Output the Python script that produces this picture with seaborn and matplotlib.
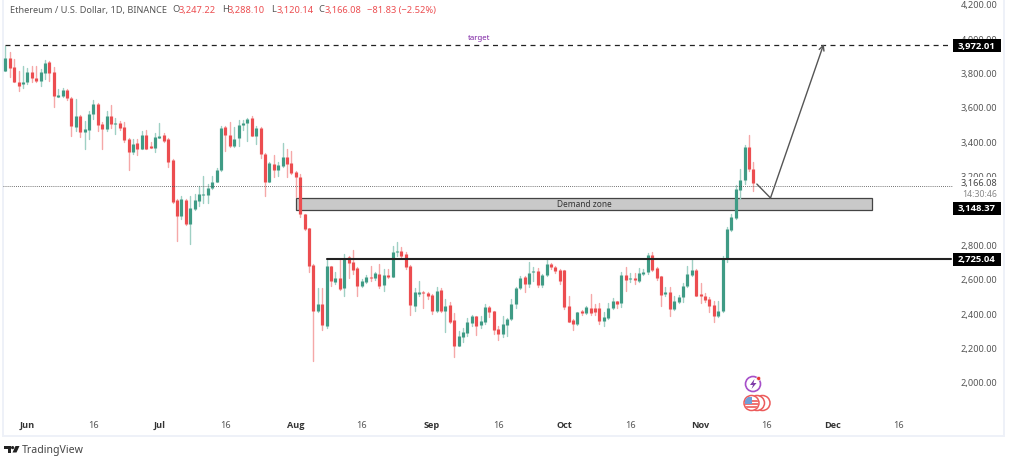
import pandas as pd
import seaborn as sns
import matplotlib.pyplot as plt
from matplotlib.patches import Circle, Rectangle, Polygon

# velas diarias (la primera es el 27 de mayo)
opens = [3808,3882,3830,3746,3733,3742,3805,3770,3752,3797,3863,3805,3659,3665,3700,3653,3481,3549,3456,3467,
         3556,3615,3502,3471,3549,3502,3508,3483,3413,3335,3388,3355,3438,3370,3359,3421,3436,3413,3289,3060,
         2967,3056,2919,3006,3053,3089,3087,3128,3165,3235,3481,3436,3374,3419,3494,3506,3533,3432,3475,3328,
         3165,3268,3233,3258,3308,3273,3223,3192,2977,2893,2682,2411,2455,2324,2672,2579,2603,2544,2725,2696,
         2663,2556,2583,2610,2603,2626,2564,2624,2610,2754,2760,2742,2672,2444,2510,2525,2517,2506,2415,2533,
         2413,2448,2362,2211,2260,2285,2343,2382,2331,2351,2434,2411,2308,2279,2333,2366,2453,2548,2608,2568,
         2637,2647,2564,2622,2686,2668,2651,2649,2440,2362,2337,2411,2401,2432,2432,2432,2355,2370,2428,2469,
         2457,2622,2597,2605,2589,2628,2637,2738,2661,2614,2512,2525,2424,2463,2492,2556,2622,2653,2512,2502,
         2482,2448,2386,2413,2715,2886,2952,3118,3172,3364,3238]
highs = [3956,3917,3878,3810,3836,3824,3836,3839,3820,3874,3866,3830,3704,3708,3704,3657,3646,3553,3520,3578,
         3640,3622,3510,3574,3613,3533,3516,3510,3417,3413,3413,3461,3467,3394,3448,3506,3448,3417,3297,3064,
         3080,3064,3084,3093,3142,3200,3151,3196,3242,3491,3491,3514,3481,3525,3525,3533,3549,3491,3481,3332,
         3277,3320,3277,3388,3355,3341,3229,3210,2977,2893,2686,2544,2544,2715,2676,2637,2715,2742,2734,2769,
         2667,2599,2622,2672,2637,2688,2657,2657,2793,2812,2783,2754,2680,2548,2589,2529,2521,2512,2550,2544,
         2482,2463,2401,2298,2312,2370,2389,2386,2382,2455,2444,2415,2327,2386,2370,2482,2550,2614,2618,2696,
         2667,2661,2630,2715,2692,2672,2657,2653,2498,2366,2405,2420,2444,2512,2455,2459,2409,2459,2486,2473,
         2641,2670,2634,2634,2661,2657,2750,2758,2667,2618,2550,2550,2502,2506,2575,2676,2715,2657,2575,2517,
         2492,2473,2473,2734,2899,2977,3145,3238,3378,3436,3277]
lows = [3808,3772,3742,3694,3708,3733,3742,3746,3723,3762,3752,3597,3655,3659,3642,3429,3461,3423,3355,3413,
        3529,3461,3355,3461,3475,3440,3467,3397,3235,3326,3320,3355,3355,3359,3339,3417,3394,3248,3041,2822,
        2948,2913,2803,3002,3022,3041,3041,3122,3161,3229,3343,3365,3365,3374,3467,3403,3429,3384,3301,3080,
        3161,3190,3196,3248,3190,3210,3074,2958,2886,2637,2124,2409,2304,2312,2560,2570,2537,2502,2603,2628,
        2502,2550,2575,2589,2595,2544,2531,2603,2608,2734,2725,2657,2389,2415,2498,2432,2482,2395,2409,2409,
        2293,2343,2143,2211,2234,2269,2324,2273,2312,2337,2376,2279,2246,2260,2269,2362,2428,2541,2521,2550,
        2589,2550,2550,2614,2657,2634,2570,2424,2347,2304,2331,2389,2395,2389,2389,2337,2324,2366,2424,2428,
        2434,2531,2579,2570,2583,2622,2628,2647,2595,2444,2502,2382,2420,2459,2463,2550,2618,2498,2459,2467,
        2405,2351,2376,2409,2696,2880,2948,3064,3151,3229,3112]
closes = [3882,3828,3746,3719,3746,3801,3766,3750,3805,3855,3797,3665,3669,3698,3649,3487,3549,3456,3471,3556,
          3615,3494,3471,3549,3500,3508,3477,3405,3339,3384,3355,3438,3355,3363,3425,3429,3401,3277,3045,2967,
          3064,2919,3010,3060,3093,3093,3128,3161,3235,3475,3436,3374,3413,3494,3506,3529,3432,3475,3326,3161,
          3273,3235,3264,3308,3270,3215,3190,2977,2890,2676,2411,2455,2331,2676,2589,2606,2541,2715,2692,2653,
          2556,2585,2608,2603,2634,2560,2622,2610,2754,2762,2730,2667,2448,2521,2525,2517,2498,2415,2529,2415,
          2440,2351,2211,2265,2289,2347,2384,2327,2355,2436,2409,2304,2279,2335,2366,2455,2548,2606,2568,2634,
          2645,2564,2624,2686,2667,2647,2589,2434,2351,2337,2405,2399,2434,2401,2409,2355,2378,2428,2471,2455,
          2622,2595,2603,2593,2632,2641,2738,2653,2603,2508,2525,2424,2473,2496,2560,2628,2651,2502,2498,2479,
          2444,2382,2415,2715,2889,2957,3122,3176,3368,3238,3157]

price_ticks = [2000,2200,2400,2600,2800,3200,3400,3600,3800,4000,4200]
date_ticks = [5,20,35,50,66,81,97,112,127,142,158,173,188,203]
date_labels = ['Jun','16','Jul','16','Aug','16','Sep','16','Oct','16','Nov','16','Dec','16']

# niveles dibujados
target_price = 3960
target_days = [0,215]
support_price = 2715
support_days = [73,215]
last_price = 3138
zone_low, zone_high = 2999, 3070
zone_days = [66,197]
path_days = [170.8,173.9,186]
path_prices = [3151,3070,3965]

GREEN = '#3f9b85'
RED = '#ec4d50'
TEXT = '#555555'

sns.set_theme(style='white')
plt.rcParams['font.family'] = ['Noto Sans', 'DejaVu Sans']

days = list(range(len(opens)))
direction = ['up' if c >= o else 'down' for o, c in zip(opens, closes)]
df = pd.DataFrame({'day': days, 'dir': direction, 'open': opens, 'high': highs, 'low': lows, 'close': closes})
wicks = df.melt(id_vars=['day','dir'], value_vars=['high','low'], value_name='price')
bodies = df.melt(id_vars=['day','dir'], value_vars=['open','close'], value_name='price')

fig = plt.figure(figsize=(10.24,4.6), dpi=100)
ax = fig.add_axes([3/1024, 23/460, 1001/1024, 437/460])

ax.add_patch(Rectangle((zone_days[0],zone_low), zone_days[1]-zone_days[0], zone_high-zone_low,
                       fc='#c9c9c9', ec='#444444', lw=0.9, zorder=1))

sns.lineplot(data=wicks, x='day', y='price', hue='dir', units='day', estimator=None, sort=False,
             palette={'up':'#9fd0c4','down':'#f5a8a8'}, linewidth=1.0, legend=False, ax=ax, zorder=2)
sns.lineplot(data=bodies, x='day', y='price', hue='dir', units='day', estimator=None, sort=False,
             palette={'up':GREEN,'down':RED}, linewidth=2.3, legend=False, ax=ax, zorder=3,
             solid_capstyle='butt')

ax.plot(target_days, [target_price]*2, color='#222222', lw=0.9, dashes=(4,3.5), zorder=4)
ax.plot(support_days, [support_price]*2, color='#222222', lw=1.5, zorder=4)
ax.axhline(last_price, xmax=0.949, color='#444444', lw=0.6, ls=(0,(1,1.5)), zorder=4)
ax.plot(path_days[:2], path_prices[:2], color='#555555', lw=1, zorder=5)
ax.annotate('', xy=(path_days[2],path_prices[2]), xytext=(path_days[1],path_prices[1]),
            arrowprops=dict(arrowstyle='->', color='#555555', lw=1, shrinkA=0, shrinkB=0, mutation_scale=9), zorder=5)

ax.set_xlim(-0.53,226.97)
ax.set_ylim(1686,4227)
ax.set_xlabel('')
ax.set_ylabel('')
ax.yaxis.tick_right()
ax.set_yticks(price_ticks)
ax.set_yticklabels([f'{p:,.2f}' for p in price_ticks], ha='right', color=TEXT, fontsize=6.6)
ax.set_xticks(date_ticks)
ax.set_xticklabels(date_labels, fontsize=6.6, color=TEXT)
for lab in ax.get_xticklabels():
    if lab.get_text() != '16':
        lab.set_family('Open Sans')
        lab.set_fontweight('bold')
        lab.set_color('#333333')
ax.tick_params(axis='y', length=0, pad=-5)
ax.tick_params(axis='x', length=0, pad=-11.5)
ax.spines['top'].set_visible(False)
for s in ['left','right','bottom']:
    ax.spines[s].set_color('#eef1f8')
    ax.spines[s].set_linewidth(1.4)

# capa en pixeles para rotulos e iconos
ov = fig.add_axes([0,0,1,1])
ov.set_xlim(0,1024)
ov.set_ylim(460,0)
ov.axis('off')
ov.patch.set_alpha(0)

ov.text(10,10,'Ethereum / U.S. Dollar, 1D, BINANCE', fontsize=6.6, color=TEXT, va='center')
for x, t, c in [(172,'O','#555555'),(179,'3,247.22',RED),(222,'H','#555555'),(228,'3,288.10',RED),
                (271,'L','#555555'),(277,'3,120.14',RED),(318,'C','#555555'),(325,'3,166.08',RED),
                (367,'\u221281.83 (\u22122.52%)',RED)]:
    ov.text(x,10,t,fontsize=6.7,color=c,va='center')

ov.text(479,39,'target',fontsize=5.6,color='#7b1fa2',ha='center',va='center')
ov.text(584,204.5,'Demand zone',fontsize=6,color='#333333',ha='center',va='center')

# etiquetas de precio
ov.text(997,183.5,'3,166.08',fontsize=6.6,color='#444444',ha='right',va='center',
        bbox=dict(fc='white',ec='none',pad=0.6),zorder=5)
ov.text(997,195,'14:30:46',fontsize=6.3,color='#888888',ha='right',va='center')
for y, t in [(46,'3,972.01'),(209,'3,148.37'),(260,'2,725.04')]:
    ov.add_patch(Rectangle((953,y-6.5),48,13,fc='black',ec='none',zorder=6))
    ov.text(977,y,t,fontsize=6.8,color='white',fontweight='bold',family='Open Sans',ha='center',va='center',zorder=7)

# iconos de eventos
ov.add_patch(Circle((753,385),7.5,fc='white',ec='#a64fc9',lw=1.2,zorder=6))
ov.add_patch(Polygon([(754.5,380),(750,386),(753,386),(751.5,390),(756.5,384),(753.5,384)],fc='#7d3aa8',ec='none',zorder=7))
ov.add_patch(Circle((758.7,379.5),2,fc='#e53935',ec='white',lw=0.4,zorder=8))
for cx in [762.5,757,751.5]:
    ov.add_patch(Circle((cx,404),7.5,fc='white',ec='#ec5b5b',lw=1.1,zorder=6))
clip = Circle((751.5,404),6.8,transform=ov.transData)
for yy in [402,405,408]:
    st, = ov.plot([744,759],[yy,yy],color='#ec5b5b',lw=1.2,zorder=7)
    st.set_clip_path(clip)
blue = ov.add_patch(Rectangle((745,398),7,7,fc='#6f9fd8',ec='none',zorder=8))
blue.set_clip_path(clip)

# logo TradingView
ov.add_patch(Polygon([(4,447),(10.5,447),(10.5,453.5),(7.5,453.5),(7.5,450),(4,450)],fc='#222222',ec='none'))
ov.add_patch(Circle((12.6,448.6),1.6,fc='#222222',ec='none'))
ov.add_patch(Polygon([(15.5,447),(19.5,447),(16.5,453.5),(12.5,453.5)],fc='#222222',ec='none'))
ov.text(22,451,'TradingView',fontsize=7.6,color='#444444',va='center')

fig.savefig('out.png', dpi=100)
